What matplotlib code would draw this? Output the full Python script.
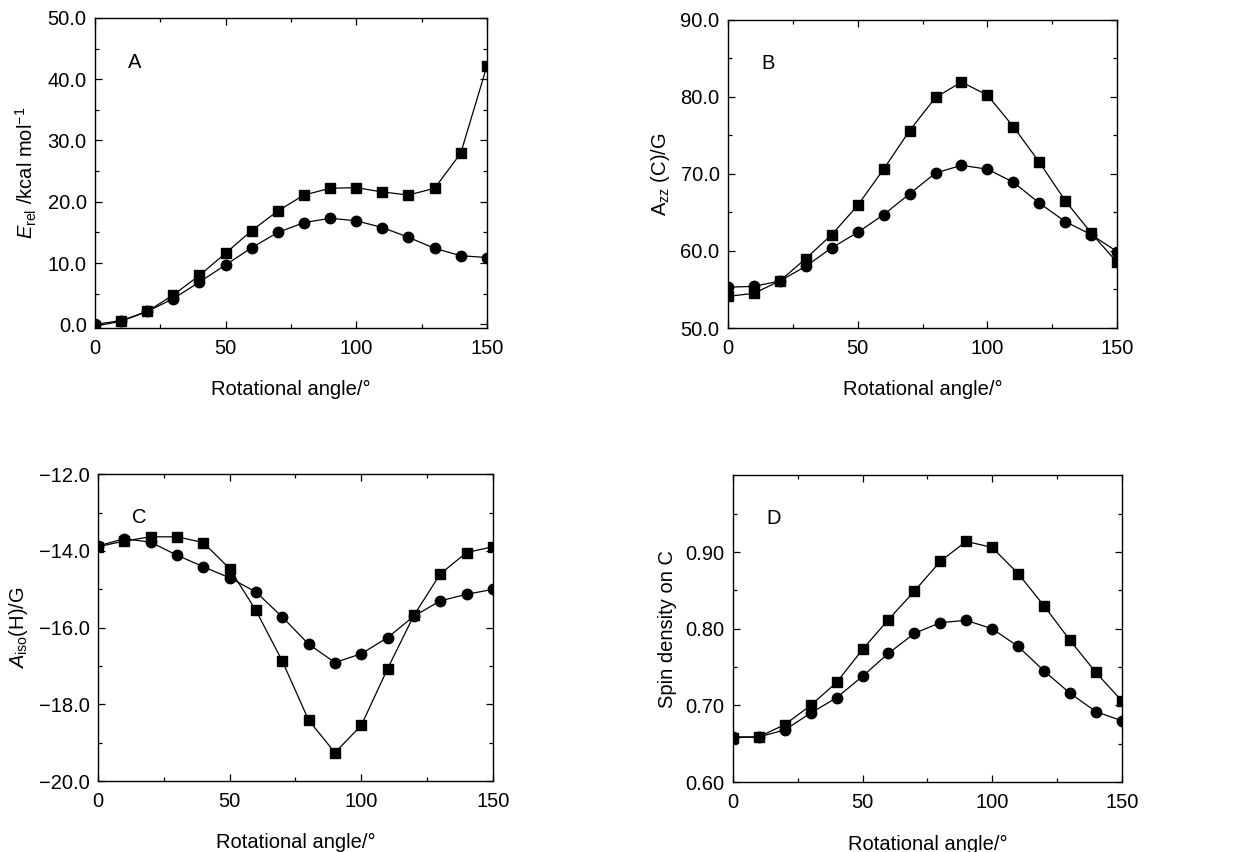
import matplotlib
matplotlib.use("Agg")
import matplotlib.pyplot as plt
from matplotlib.ticker import MultipleLocator, FuncFormatter, FixedLocator

plt.rcParams['font.family'] = ['Liberation Sans', 'DejaVu Sans']
plt.rcParams['mathtext.fontset'] = 'custom'
plt.rcParams['mathtext.rm'] = 'Liberation Sans'
plt.rcParams['mathtext.it'] = 'Liberation Sans:italic'

# rotational angle (deg)
angle = [0, 10, 20, 30, 40, 50, 60, 70, 80, 90, 100, 110, 120, 130, 140, 150]

# A: relative energy
energy_sq = [-0.3, 0.5, 2.1, 4.8, 8.0, 11.6, 15.3, 18.5, 21.1, 22.2, 22.3, 21.6, 21.1, 22.2, 27.9, 42.1]
energy_ci = [0.0, 0.6, 2.1, 4.2, 6.9, 9.7, 12.5, 15.0, 16.6, 17.3, 16.9, 15.8, 14.2, 12.4, 11.2, 10.9]

# B: Azz(C)
azz_sq = [54.1, 54.5, 56.1, 59.0, 62.1, 65.9, 70.6, 75.6, 79.9, 81.9, 80.2, 76.1, 71.5, 66.5, 62.3, 58.5]
azz_ci = [55.3, 55.4, 56.1, 58.0, 60.4, 62.4, 64.7, 67.4, 70.1, 71.1, 70.6, 68.9, 66.2, 63.8, 62.1, 59.9]

# C: Aiso(H)
aiso_sq = [-13.89, -13.74, -13.63, -13.63, -13.78, -14.46, -15.55, -16.87, -18.41, -19.26,
           -18.55, -17.07, -15.68, -14.60, -14.04, -13.89]
aiso_ci = [-13.87, -13.68, -13.77, -14.11, -14.41, -14.70, -15.07, -15.72, -16.43, -16.91,
           -16.68, -16.26, -15.70, -15.30, -15.13, -15.00]

# D: spin density on C
spin_sq = [0.658, 0.659, 0.675, 0.700, 0.730, 0.773, 0.812, 0.849, 0.888, 0.914,
           0.906, 0.872, 0.830, 0.785, 0.743, 0.706]
spin_ci = [0.659, 0.659, 0.668, 0.690, 0.710, 0.738, 0.768, 0.794, 0.808, 0.811,
           0.800, 0.777, 0.745, 0.716, 0.692, 0.680]


def make_fmt(decimals):
    # real minus sign instead of hyphen
    return FuncFormatter(lambda v, pos: f'{v:.{decimals}f}'.replace('-', '\u2212'))


fig = plt.figure(figsize=(12.4, 8.52), dpi=100)

panels = [
    # rect, label, squares, circles, ylim, major, minor, decimals, ylabel, yticks
    ([0.0766, 0.615, 0.316, 0.364], 'A', energy_sq, energy_ci, (-0.6, 50.0), 10.0, 5.0, 1,
     r'$E_{\rm rel}$ /kcal mol$^{-1}$', None),
    ([0.587, 0.615, 0.314, 0.362], 'B', azz_sq, azz_ci, (50.0, 90.0), 10.0, 5.0, 1,
     r'A$_{\rm zz}$ (C)/G', None),
    ([0.079, 0.0833, 0.3185, 0.360], 'C', aiso_sq, aiso_ci, (-20.0, -12.0), 2.0, 1.0, 1,
     r'$A_{\rm iso}$(H)/G', None),
    ([0.591, 0.082, 0.3137, 0.360], 'D', spin_sq, spin_ci, (0.60, 1.00), 0.10, 0.05, 2,
     'Spin density on C', [0.60, 0.70, 0.80, 0.90]),
]

for rect, label, sq, ci, ylim, major, minor, decimals, ylabel, yticks in panels:
    ax = fig.add_axes(rect)
    ax.plot(angle, sq, color='black', lw=0.9, marker='s', ms=7, mfc='black', mec='black')
    ax.plot(angle, ci, color='black', lw=0.9, marker='o', ms=7.5, mfc='black', mec='black')
    ax.set_xlim(0, 150)
    ax.set_ylim(*ylim)
    ax.xaxis.set_major_locator(MultipleLocator(50))
    ax.xaxis.set_minor_locator(MultipleLocator(25))
    if yticks is not None:
        ax.yaxis.set_major_locator(FixedLocator(yticks))
        ax.yaxis.set_minor_locator(FixedLocator([0.65, 0.75, 0.85, 0.95]))
    else:
        ax.yaxis.set_major_locator(MultipleLocator(major))
        ax.yaxis.set_minor_locator(MultipleLocator(minor))
    ax.yaxis.set_major_formatter(make_fmt(decimals))
    ax.tick_params(which='both', direction='in', top=True, right=True, labelsize=14.5, width=0.9)
    ax.tick_params(which='major', length=5)
    ax.tick_params(axis='x', which='major', pad=8)
    ax.tick_params(axis='y', which='major', pad=6)
    ax.tick_params(which='minor', length=3)
    for s in ax.spines.values():
        s.set_linewidth(1.0)
    ax.set_xlabel('Rotational angle/°', fontsize=14.5, labelpad=16)
    ax.set_ylabel(ylabel, fontsize=14.5, labelpad=6)
    ax.text(0.085, 0.84, label, transform=ax.transAxes, fontsize=14.5)

fig.savefig('out.png', dpi=100)
